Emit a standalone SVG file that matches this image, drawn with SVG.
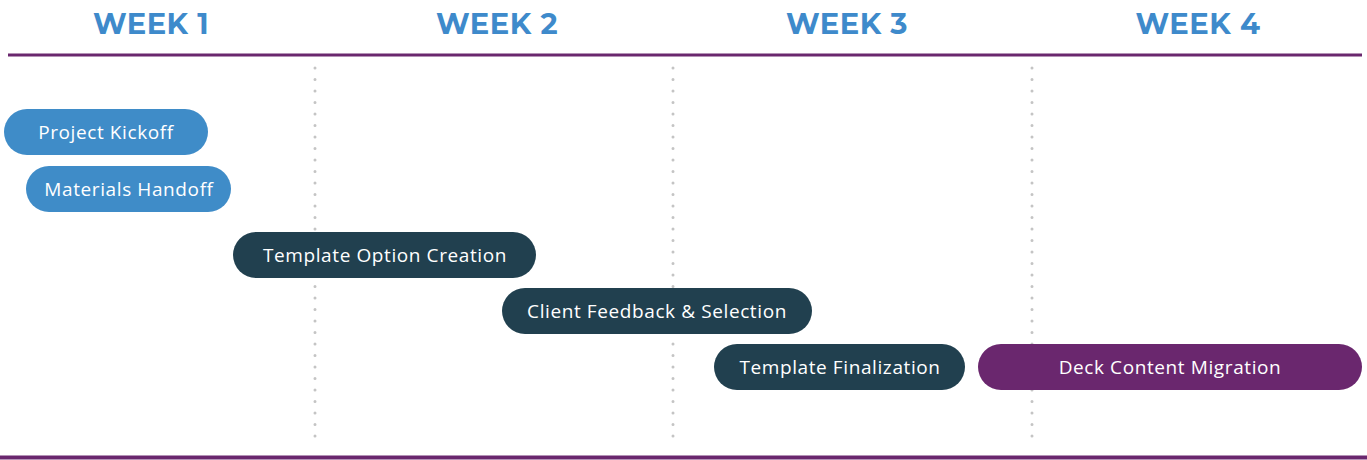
<svg xmlns="http://www.w3.org/2000/svg" width="1367" height="460" viewBox="0 0 1367 460">
<style>
.wk{font-family:"Montserrat","Liberation Sans",Arial,sans-serif;font-weight:bold;font-size:29px;fill:#3E8ACB;text-anchor:middle;letter-spacing:0.5px}
.lbl{font-family:"Open Sans","Liberation Sans",sans-serif;font-size:19px;letter-spacing:0.6px;fill:#ffffff;text-anchor:middle;dominant-baseline:central}
.blue{fill:#3F8CC8}
.dark{fill:#21404F}
.purple{fill:#6A276E}
.div{stroke:#C4C4C4;stroke-width:3;stroke-linecap:round;stroke-dasharray:0 11.5;fill:none}
.rule{stroke:#6A276E;fill:none}
</style>
<rect width="1367" height="460" fill="#ffffff"/>
<g id="headers">
<text class="wk" x="151" y="34">WEEK 1</text>
<text class="wk" x="497" y="34">WEEK 2</text>
<text class="wk" x="847" y="34">WEEK 3</text>
<text class="wk" x="1198" y="34">WEEK 4</text>
</g>
<g id="connectors">
<line class="rule" x1="8" y1="55" x2="1362" y2="55" stroke-width="3"/>
<line class="rule" x1="0" y1="457.5" x2="1367" y2="457.5" stroke-width="4"/>
<line class="div" x1="315" y1="68" x2="315" y2="438"/>
<line class="div" x1="673" y1="68" x2="673" y2="438"/>
<line class="div" x1="1032" y1="68" x2="1032" y2="438"/>
</g>
<g id="project-kickoff">
<rect class="blue" x="4" y="109" width="204" height="46" rx="23"/>
<text class="lbl" x="106" y="132">Project Kickoff</text>
</g>
<g id="materials-handoff">
<rect class="blue" x="26" y="166" width="205" height="46" rx="23"/>
<text class="lbl" x="129" y="189">Materials Handoff</text>
</g>
<g id="template-option-creation">
<rect class="dark" x="233" y="232" width="303" height="46" rx="23"/>
<text class="lbl" x="385" y="255">Template Option Creation</text>
</g>
<g id="client-feedback">
<rect class="dark" x="502" y="288" width="310" height="46" rx="23"/>
<text class="lbl" x="657" y="311">Client Feedback &amp; Selection</text>
</g>
<g id="template-finalization">
<rect class="dark" x="714" y="344" width="251" height="46" rx="23"/>
<text class="lbl" x="840" y="367">Template Finalization</text>
</g>
<g id="deck-content-migration">
<rect class="purple" x="978" y="344" width="384" height="46" rx="23"/>
<text class="lbl" x="1170" y="367">Deck Content Migration</text>
</g>
</svg>
